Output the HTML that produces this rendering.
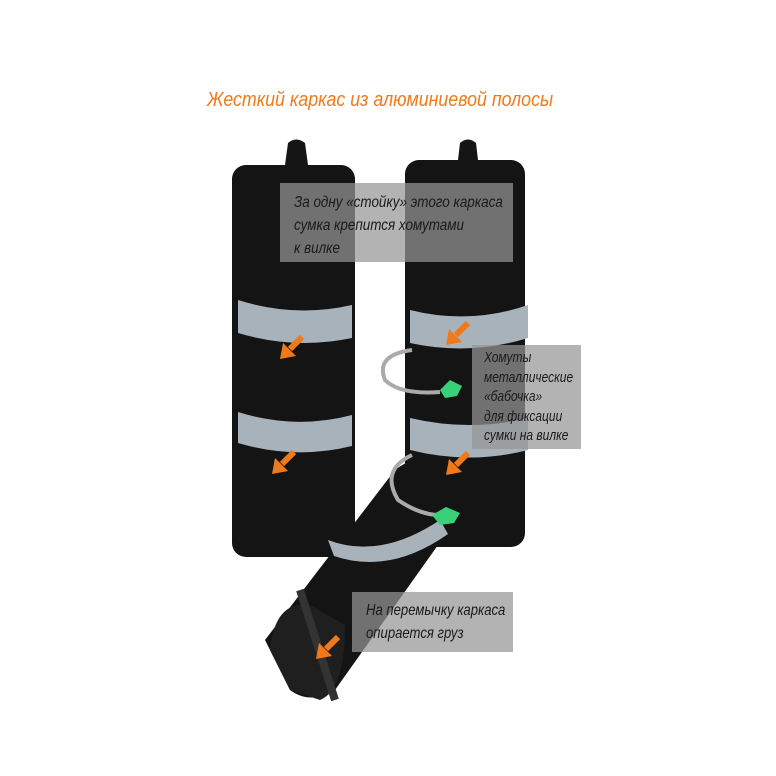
<!DOCTYPE html>
<html><head><meta charset="utf-8"><style>
body{margin:0;width:776px;height:776px;background:#fff;position:relative;overflow:hidden;font-family:"Liberation Sans",sans-serif}
.box{position:absolute;background:rgba(150,150,150,0.72);color:#1a1a1a;box-sizing:border-box}
.t{position:absolute;left:14px;font-style:italic;font-size:15px;white-space:nowrap;transform:scaleX(0.8);transform-origin:0 0}
</style></head><body>
<div style="position:absolute;left:207px;top:89px;color:#f07a1a;font-style:italic;font-size:20px;white-space:nowrap;transform:scaleX(0.89);transform-origin:0 0">Жесткий каркас из алюминиевой полосы</div>
<svg width="776" height="776" style="position:absolute;left:0;top:0">
<path d="M285 165 L288 143 Q296 136 305 143 L308 165 Z" fill="#151515"/>
<rect x="232" y="165" width="123" height="392" rx="14" fill="#141414"/>
<path d="M458 160 L460 143 Q468 136 476 143 L478 160 Z" fill="#151515"/>
<rect x="405" y="160" width="120" height="387" rx="14" fill="#141414"/>
<path d="M238 300 Q295 318 352 305 L352 338 Q295 350 238 333Z" fill="#a7b2ba"/>
<path d="M238 412 Q295 430 352 415 L352 446 Q295 460 238 443Z" fill="#a7b2ba"/>
<path d="M410 310 Q470 325 528 305 L528 338 Q470 356 410 343Z" fill="#a7b2ba"/>
<path d="M410 418 Q470 432 528 418 L528 450 Q470 465 410 450Z" fill="#a7b2ba"/>
<path d="M265 640 L395 470 Q420 450 445 470 L470 500 L335 690 Q310 705 290 690 Z" fill="#141414"/>
<path d="M270 650 Q275 600 310 605 L345 625 Q345 690 320 700 L290 690Z" fill="#1f1f1f"/>
<path d="M300 590 L335 700" stroke="#333" stroke-width="8"/>
<path d="M328 540 Q380 560 440 520 L448 534 Q390 575 334 556Z" fill="#a7b2ba"/>
<path d="M412 350 Q375 355 385 380 Q400 395 440 392" fill="none" stroke="#aaa" stroke-width="4"/>
<path d="M440 390 l10 -10 l12 6 l-5 10 l-12 2z" fill="#39d07a"/>
<path d="M412 455 Q380 470 398 500 Q420 515 440 515" fill="none" stroke="#aaa" stroke-width="4"/>
<path d="M432 515 l14 -8 l14 6 l-6 10 l-14 2z" fill="#39d07a"/>
<g stroke="#f07a1a" stroke-width="6" fill="#f07a1a">
<line x1="302" y1="337" x2="290" y2="349"/><path d="M280 359 l3 -16 l13 13z" stroke="none"/>
<line x1="294" y1="452" x2="282" y2="464"/><path d="M272 474 l3 -16 l13 13z" stroke="none"/>
<line x1="468" y1="323" x2="456" y2="335"/><path d="M446 345 l3 -16 l13 13z" stroke="none"/>
<line x1="468" y1="453" x2="456" y2="465"/><path d="M446 475 l3 -16 l13 13z" stroke="none"/>
<line x1="338" y1="637" x2="326" y2="649"/><path d="M316 659 l3 -16 l13 13z" stroke="none"/>
</g>
</svg>
<div class="box" style="left:280px;top:183px;width:233px;height:79px"><div class="t" style="top:8px;line-height:23px;font-size:16px;transform:scaleX(0.84)">За одну «стойку» этого каркаса<br>сумка крепится хомутами<br>к вилке</div></div>
<div class="box" style="left:472px;top:345px;width:109px;height:104px"><div class="t" style="top:3px;line-height:19.5px;left:12px">Хомуты<br>металлические<br>«бабочка»<br>для фиксации<br>сумки на вилке</div></div>
<div class="box" style="left:352px;top:592px;width:161px;height:60px"><div class="t" style="top:7px;line-height:23px;font-size:16px;transform:scaleX(0.82)">На перемычку каркаса<br>опирается груз</div></div>
</body></html>
